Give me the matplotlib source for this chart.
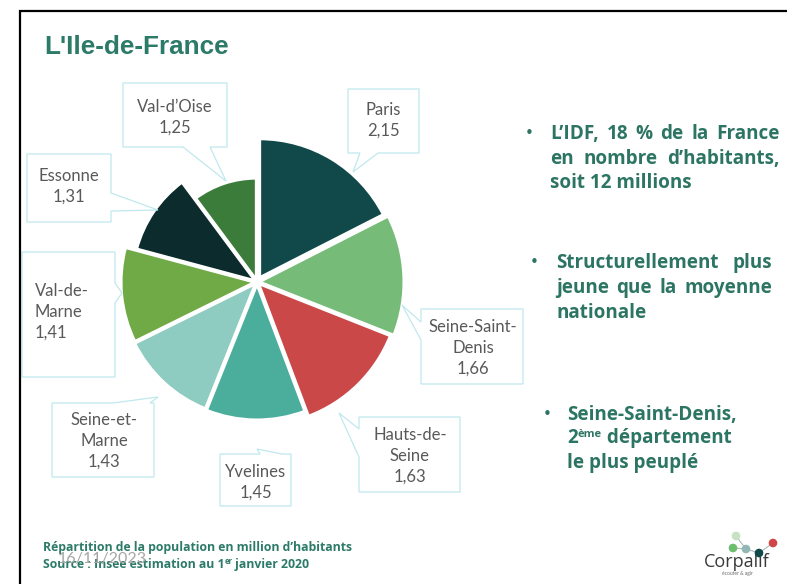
import matplotlib
matplotlib.use("Agg")
import matplotlib.pyplot as plt
from matplotlib.patches import Polygon, Circle

# data: population (millions) per departement, clockwise from 12 o'clock
departements = ["Paris", "Seine-Saint-Denis", "Hauts-de-Seine", "Yvelines",
                "Seine-et-Marne", "Val-de-Marne", "Essonne", "Val-d’Oise"]
population = [2.15, 1.66, 1.63, 1.45, 1.43, 1.41, 1.31, 1.25]
callout_names = ["Paris", "Seine-Saint-\nDenis", "Hauts-de-\nSeine", "Yvelines",
                 "Seine-et-\nMarne", "Val-de-\nMarne", "Essonne", "Val-d’Oise"]

colors = ["#11494A", "#77BB78", "#CB4849", "#4BAE9C",
          "#8ECCC1", "#6FAA46", "#0B2B2C", "#3B7C3B"]
radii = [139, 145, 142, 136, 135, 134, 123, 102]
explode = [5, 2, 2, 2, 2, 2, 2, 2]

W, H = 787, 584
GREEN = "#2D7563"
GREY = "#595959"
BOXC = "#C0E8EE"

fig = plt.figure(figsize=(W / 100, H / 100), dpi=100)
ax = fig.add_axes([0, 0, 1, 1])
renderer = fig.canvas.get_renderer()


def Y(y):
    # image rows -> data y
    return H - y


# pie, centre in image pixels
wedges, _ = ax.pie(population, colors=colors, explode=explode, startangle=90,
                   counterclock=False, center=(257, Y(282)), radius=135,
                   wedgeprops=dict(edgecolor="white", linewidth=2.2))
for w, r in zip(wedges, radii):
    w.set_radius(r)

ax.set_xlim(0, W)
ax.set_ylim(0, H)
ax.set_aspect("auto")
ax.axis("off")

# slide frame
ax.plot([20, 20, W], [0, Y(11), Y(11)], color="black", lw=1.6,
        solid_joinstyle="miter")

# title
ax.text(44, Y(54), "L'Ile-de-France", fontsize=18.8, fontweight="bold",
        family="Liberation Sans", color="#2C7A68", va="baseline")


def callout(box, side, base, tip):
    x0, y0, x1, y1 = box
    b0, b1 = sorted(base)
    pts = [(x0, y0)]
    if side == "top":
        pts += [(b0, y0), tip, (b1, y0)]
    pts.append((x1, y0))
    if side == "right":
        pts += [(x1, b0), tip, (x1, b1)]
    pts.append((x1, y1))
    if side == "bottom":
        pts += [(b1, y1), tip, (b0, y1)]
    pts.append((x0, y1))
    if side == "left":
        pts += [(x0, b1), tip, (x0, b0)]
    pts = [(px, Y(py)) for px, py in pts]
    ax.add_patch(Polygon(pts, closed=True, facecolor="white",
                         edgecolor=BOXC, lw=0.9, zorder=1))


# callout boxes (image px): box, side, base, tip, text anchor, ha
callouts = [
    ((348, 89, 419, 153), "bottom", (360, 378), (353, 172), (383, 120), "center"),
    ((421, 309, 523, 384), "left", (322, 340), (402, 305), (473, 348), "center"),
    ((359, 417, 460, 492), "left", (429, 457), (339, 413), (410, 456), "center"),
    ((220, 454, 291, 506), "top", (260, 282), (257, 449), (256, 482), "center"),
    ((52, 403, 154, 477), "top", (113, 150), (158, 397), (104, 441), "center"),
    ((22, 252, 115, 377), "right", (283, 303), (122, 293), (35, 312), "left"),
    ((27, 154, 111, 222), "right", (193, 211), (158, 210), (69, 186), "center"),
    ((123, 83, 227, 147), "bottom", (183, 210), (226, 181), (175, 117), "center"),
]

for name, val, (box, side, base, tip, (tx, ty), ha) in zip(callout_names, population, callouts):
    callout(box, side, base, tip)
    label = name + "\n" + f"{val:.2f}".replace(".", ",")
    ax.text(tx, Y(ty), label, ha=ha, va="center", multialignment=ha,
            fontsize=12, family="Lato", color=GREY, linespacing=1.35, zorder=3)

# bullet points
bkw = dict(fontsize=13.6, fontweight="bold", family="Open Sans", color=GREEN,
           va="baseline")
dkw = dict(fontsize=11, family="DejaVu Sans", color=GREEN, va="baseline")


def justified(x, y, s, right):
    # spread the words of s so the line runs from x to right
    words = s.split()
    texts = [ax.text(x, Y(y), w, **bkw) for w in words]
    widths = [t.get_window_extent(renderer).width for t in texts]
    gap = (right - x - sum(widths)) / max(len(words) - 1, 1)
    for t, wd in zip(texts, widths):
        t.set_x(x)
        x += wd + gap


bullets = [
    (529, 550, [139, 164, 188], 780,
     ["L’IDF, 18 % de la France", "en nombre d’habitants,", "soit 12 millions"]),
    (534, 556, [268, 293, 318], 772,
     ["Structurellement  plus", "jeune que la moyenne", "nationale"]),
]
for bx, tx, ys, right, lines in bullets:
    ax.text(bx - 4, Y(ys[0] - 1), "•", **dkw)
    for i, (yy, s) in enumerate(zip(ys, lines)):
        if i < len(lines) - 1:
            justified(tx, yy, s, right)
        else:
            ax.text(tx, Y(yy), s, **bkw)


def runs(x, y, parts, **kw):
    for s, size, dy in parts:
        t = ax.text(x, Y(y) + dy, s, fontsize=size, ha="left", va="baseline", **kw)
        x = t.get_window_extent(renderer).x1


ax.text(543, Y(419), "•", **dkw)
ax.text(567, Y(420), "Seine-Saint-Denis,", **bkw)
runs(567, 443, [("2", 13.6, 0), ("ème", 8, 6), (" département", 13.6, 0)],
     fontweight="bold", family="Open Sans", color=GREEN)
ax.text(567, Y(468), "le plus peuplé", **bkw)

# footer
fkw = dict(fontweight="bold", family="Open Sans", color="#2C7A68")
ax.text(43, Y(551), "Répartition de la population en million d’habitants",
        fontsize=8.8, va="baseline", **fkw)
runs(43, 568, [("Source : Insee estimation au 1", 8.8, 0), ("er", 5.5, 3.5),
               (" janvier 2020", 8.8, 0)], **fkw)
ax.text(58, Y(563), "16/11/2023", fontsize=11.5, family="Lato",
        color="#A6A6A6", va="baseline")

# logo
dots = {"a": (736, 536, "#C7E2C2"), "b": (733, 548, "#6DBE6D"),
        "c": (746, 549, "#93B7B5"), "d": (759, 553, "#11494A"),
        "e": (773, 543, "#D04545")}
for p, q in [("a", "c"), ("b", "c"), ("c", "d"), ("d", "e")]:
    ax.plot([dots[p][0], dots[q][0]], [Y(dots[p][1]), Y(dots[q][1])],
            color="#A9B8B8", lw=0.8, zorder=4)
for x, y, c in dots.values():
    ax.add_patch(Circle((x, Y(y)), 3.6, color=c, zorder=5))
ax.text(704, Y(567), "Corpalif", fontsize=13, family="Open Sans",
        color="#3A3A3A", va="baseline")
ax.text(737, Y(575), "écouter & agir", fontsize=3.5, family="Lato",
        color="#6A6A6A", va="baseline", ha="center")

fig.savefig("out.png", dpi=100)
